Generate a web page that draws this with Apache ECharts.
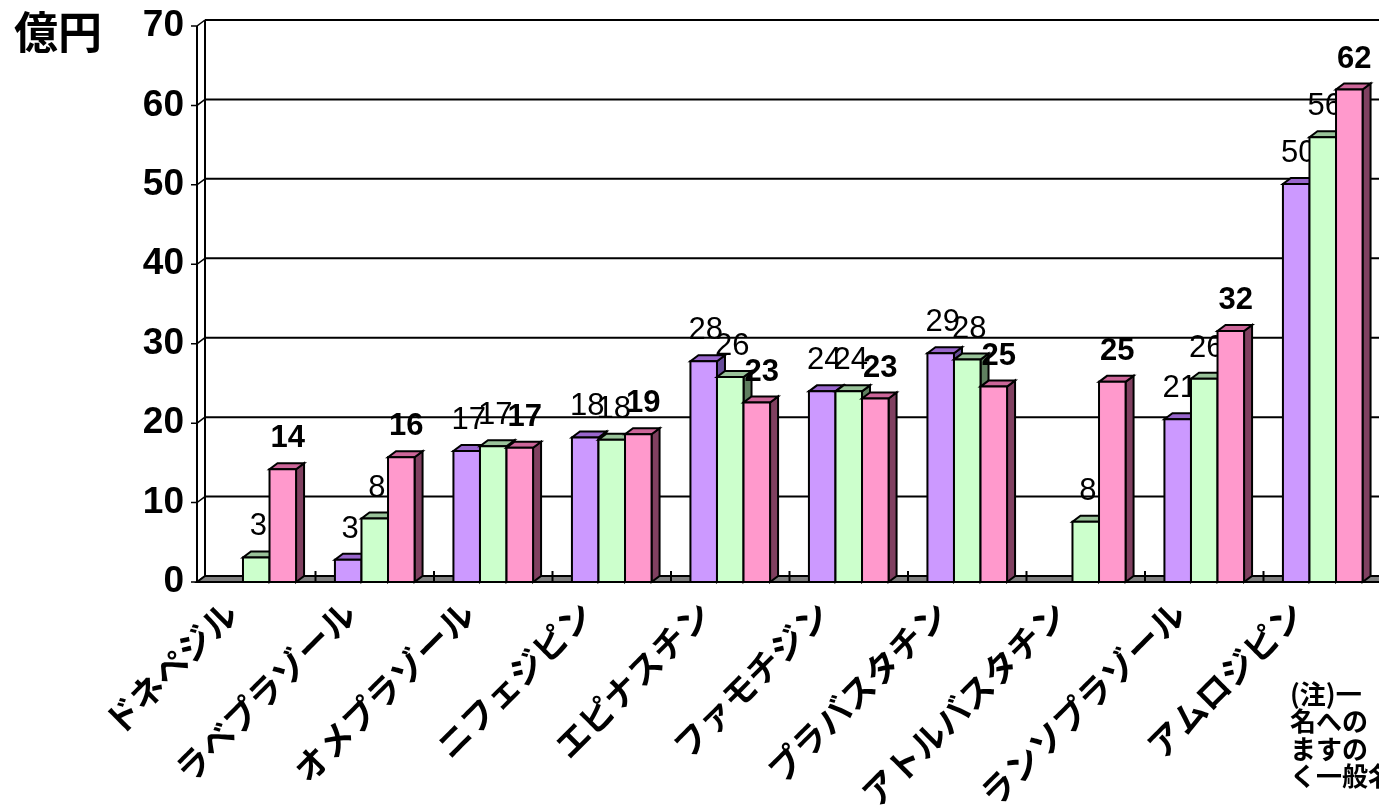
<!DOCTYPE html>
<html><head><meta charset="utf-8">
<script src="https://cdn.jsdelivr.net/npm/echarts@6/dist/echarts.min.js"></script>
<style>html,body{margin:0;padding:0;background:#fff}#c{width:1379px;height:806px}</style>
</head><body><div id="c"></div><script>
// ---- data ----
const categories = ['ドネペジル','ラベプラゾール','オメプラゾール','ニフェジピン','エピナスチン','ファモチジン','プラバスタチン','アトルバスタチン','ランソプラゾール','アムロジピン'];
const series1 = [null, 2.8, 16.5, 18.2, 27.8, 24.0, 28.8, null, 20.5, 50.1];
const series2 = [3.1, 8.0, 17.1, 17.9, 25.8, 24.0, 28.0, 7.6, 25.6, 56.0];
const series3 = [14.2, 15.7, 16.9, 18.6, 22.6, 23.1, 24.6, 25.2, 31.6, 62.0];
const yTicks = [0, 10, 20, 30, 40, 50, 60, 70];
const unitLabel = '億円';
const noteLines = ['(注)一', '名への', 'ますの', 'く一般名'];

// ---- style ----
const DX = 8, DY = -6;
const BAR_FRAC = 0.224;
const palette = [
  {front:'#CC99FF', top:'#9966CC', side:'#664C99'},
  {front:'#CCFFCC', top:'#99C299', side:'#5F7F5F'},
  {front:'#FF99CC', top:'#CC6699', side:'#804060'}
];
const JP = '"Noto Sans CJK JP", sans-serif';
const NUM = '"Liberation Sans", Arial, sans-serif';

function makeBar(si, bold) {
  return function (params, api) {
    const v = api.value(1);
    if (v === null || v === undefined || isNaN(v)) return null;
    const cat = api.value(0);
    const base = api.coord([cat, 0]);
    const top = api.coord([cat, v]);
    const band = api.size([1, 0])[0];
    const bw = band * BAR_FRAC;
    const x0 = base[0] + (si - 1.5) * bw;
    const x1 = x0 + bw;
    const yb = base[1], yt = top[1];
    const c = palette[si];
    const ls = {stroke:'#000', lineWidth:2, lineJoin:'miter'};
    return {type:'group', children:[
      {type:'polygon', shape:{points:[[x1,yt],[x1+DX,yt+DY],[x1+DX,yb+DY],[x1,yb]]}, style:Object.assign({fill:c.side}, ls)},
      {type:'polygon', shape:{points:[[x0,yt],[x1,yt],[x1+DX,yt+DY],[x0+DX,yt+DY]]}, style:Object.assign({fill:c.top}, ls)},
      {type:'rect', shape:{x:x0, y:yt, width:bw, height:yb-yt}, style:Object.assign({fill:c.front}, ls)},
      {type:'text', z2:100, style:{text:String(Math.round(v)), x:(x0+x1)/2 + (bold?5:2), y:yt+DY-9,
        align:'center', verticalAlign:'bottom', fontSize:31, fontWeight:bold?'bold':'normal', fontFamily:NUM, fill:'#000'}}
    ]};
  };
}

function renderWall(params, api) {
  const cs = params.coordSys;
  const v = api.value(1);
  const y = api.coord([0, v])[1];
  const gx = cs.x, gr = cs.x + cs.width;
  const ch = [];
  const st = {stroke:'#000', lineWidth:2};
  if (v !== 0) {
    ch.push({type:'line', shape:{x1:gx+DX, y1:y+DY, x2:gr+DX+20, y2:y+DY}, style:st});
  }
  ch.push({type:'polyline', shape:{points:[[gx-6,y],[gx,y],[gx+DX,y+DY]]}, style:{stroke:'#000', lineWidth:1.5, fill:null}});
  if (params.dataIndex === 0) {
    const yTop = api.coord([0, yTicks[yTicks.length-1]])[1];
    ch.push({type:'polygon', shape:{points:[[gx,y],[gr+30,y],[gr+30+DX,y+DY],[gx+DX,y+DY]]}, style:{fill:'#808080', stroke:'#000', lineWidth:2}});
    ch.push({type:'line', shape:{x1:gx, y1:y, x2:gx, y2:yTop}, style:st});
    ch.push({type:'line', shape:{x1:gx+DX, y1:y+DY, x2:gx+DX, y2:yTop+DY}, style:st});
    const band = api.size([1, 0])[0];
    for (let k = 1; k < categories.length; k++) {
      const bx = gx + k * band;
      ch.push({type:'line', shape:{x1:bx, y1:y-11, x2:bx, y2:y}, style:{stroke:'#000', lineWidth:2}});
    }
  }
  return {type:'group', children:ch};
}

const chart = echarts.init(document.getElementById('c'), null, {renderer:'canvas'});
chart.setOption({
  animation:false,
  backgroundColor:'#fff',
  grid:{left:197, right:-3, top:26, bottom:224, containLabel:false, outerBoundsMode:'none'},
  xAxis:{type:'category', data:categories, boundaryGap:true,
    axisLine:{show:false}, axisTick:{show:false}, splitLine:{show:false},
    axisLabel:{interval:0, rotate:45, margin:0, padding:[0,36,0,0], color:'#000', fontSize:34, fontWeight:'bold', fontFamily:JP}},
  yAxis:{type:'value', min:0, max:70, interval:10,
    axisLine:{show:false}, axisTick:{show:false}, splitLine:{show:false},
    axisLabel:{margin:13, color:'#000', fontSize:37, fontWeight:'bold', fontFamily:NUM}},
  graphic:[
    {type:'text', left:14, top:10, style:{text:unitLabel, fontSize:44, fontWeight:'bold', fontFamily:JP, fill:'#000'}},
    {type:'text', left:1290, top:680, style:{text:noteLines.join('\n'), fontSize:26, lineHeight:27.5, fontWeight:'bold', fontFamily:JP, fill:'#000'}}
  ],
  series:[
    {type:'custom', name:'wall', renderItem:renderWall, data:yTicks.map(v=>[0,v]), silent:true, clip:false, z:1},
    {type:'custom', name:'系列1', renderItem:makeBar(0,false), data:series1.map((v,i)=>[i,v]), clip:false, z:2},
    {type:'custom', name:'系列2', renderItem:makeBar(1,false), data:series2.map((v,i)=>[i,v]), clip:false, z:3},
    {type:'custom', name:'系列3', renderItem:makeBar(2,true), data:series3.map((v,i)=>[i,v]), clip:false, z:4}
  ]
});
</script></body></html>
